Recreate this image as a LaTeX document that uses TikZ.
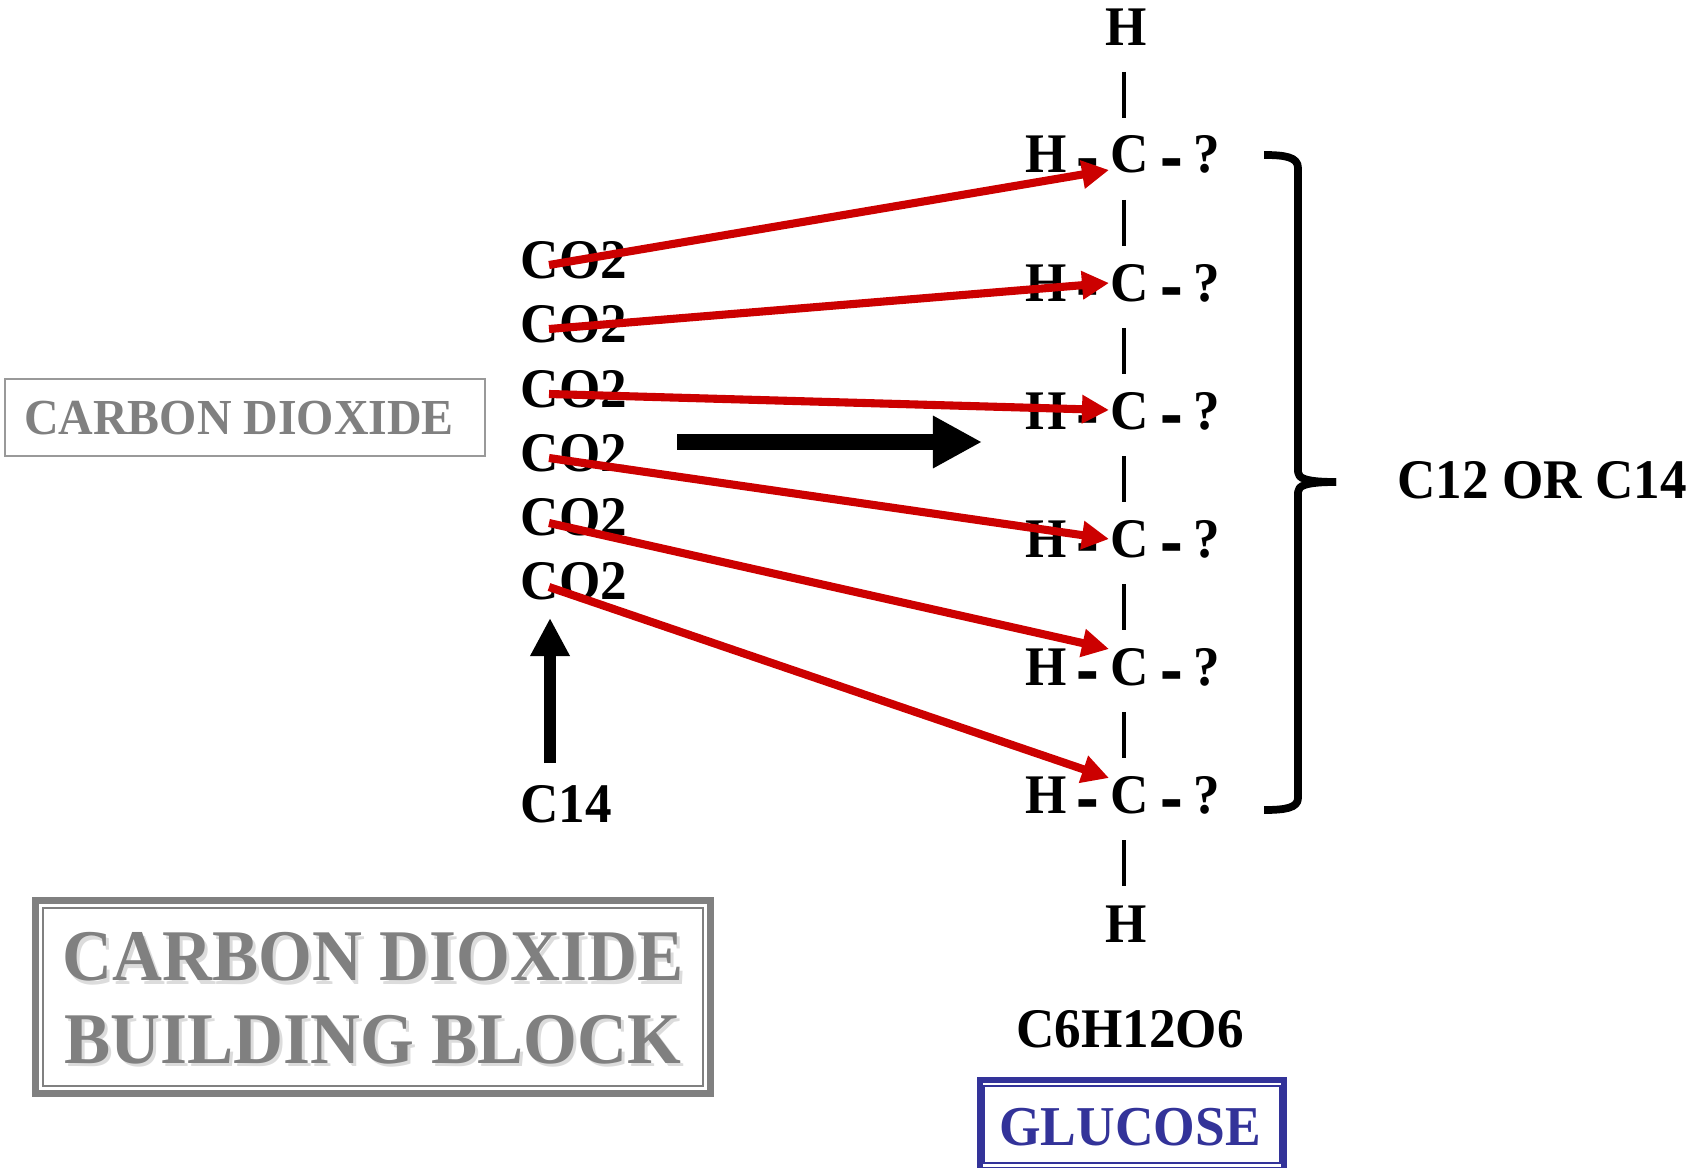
\documentclass[tikz,border=0pt]{standalone}
\usepackage{fontspec}
\setmainfont[FakeStretch=0.95]{Liberation Serif}
\usepackage{xcolor}
\usetikzlibrary{arrows.meta,calc,positioning,fit}
\definecolor{boxgray}{HTML}{808080}
\definecolor{edgegray}{HTML}{999999}
\definecolor{shadowgray}{HTML}{DCDCDC}
\definecolor{arrowred}{HTML}{CC0000}
\definecolor{glucoseblue}{HTML}{333399}
\tikzset{
  atom/.style={anchor=base, inner sep=0pt, font=\bfseries\fontsize{15.9}{18}\selectfont, text=black},
  hyph/.style={anchor=base, inner sep=0pt, xscale=0.8, font=\bfseries\fontsize{25.4}{28}\selectfont, text=black},
  bond/.style={line width=1.15pt, draw=black},
  feed/.style={-{Triangle[length=0.27cm,width=0.27cm]}, line width=2.3pt, draw=arrowred},
  bigarr/.style={-{Triangle[length=0.49cm,width=0.49cm]}, line width=0.16cm, draw=black},
  uparr/.style={-{Triangle[length=0.38cm,width=0.37cm]}, line width=0.12cm, draw=black},
  brace/.style={line width=2.2pt, draw=black, line join=round},
  namebox/.style={draw=edgegray, line width=0.6pt, minimum width=4.8cm, minimum height=0.77cm, inner sep=0pt},
  nametext/.style={anchor=base, inner sep=0pt, font=\bfseries\fontsize{14.34}{16}\selectfont, text=boxgray},
  titleouter/.style={draw=boxgray, line width=2pt, minimum width=6.75cm, minimum height=1.93cm, inner sep=0pt},
  titleinner/.style={draw=boxgray, line width=0.55pt, minimum width=6.6cm, minimum height=1.78cm, inner sep=0pt},
  titletext/.style={anchor=base, inner sep=0pt, font=\bfseries\fontsize{20.7}{24}\selectfont, text=boxgray},
  titleshadow/.style={titletext, text=shadowgray},
  glucoseouter/.style={draw=glucoseblue, line width=1.5pt, minimum width=3.04cm, minimum height=0.9cm, inner sep=0pt},
  glucoseinner/.style={draw=glucoseblue, line width=0.55pt, minimum width=2.96cm, minimum height=0.77cm, inner sep=0pt},
  glucosetext/.style={anchor=base, inner sep=0pt, font=\bfseries\fontsize{16}{18}\selectfont, text=glucoseblue},
}
\begin{document}
\begin{tikzpicture}[x=0.01cm, y=-0.01cm]
\useasboundingbox (0,0) rectangle (1701,1167);

%% left labels
\node[namebox] (co2box) at (245,417.5) {};
\node[nametext] (co2name) at (239,434) {CARBON DIOXIDE};

\node[titleouter] (titlebox) at (373,997) {};
\node[titleinner] (titlein) at (373,997) {};
\node[titleshadow] (titleshadea) at (376,984) {CARBON DIOXIDE};
\node[titleshadow] (titleshadeb) at (376,1066) {BUILDING BLOCK};
\node[titletext] (titlea) at (373,980) {CARBON DIOXIDE};
\node[titletext] (titleb) at (373,1063) {BUILDING BLOCK};

%% CO2 stack
\node[atom] (co1) at (574,279) {CO2};
\node[atom] (co2) at (574,343) {CO2};
\node[atom] (co3) at (574,407) {CO2};
\node[atom] (co4) at (574,471) {CO2};
\node[atom] (co5) at (574,535) {CO2};
\node[atom] (co6) at (574,599) {CO2};
\node[atom] (c14) at (566,822) {C14};

%% glucose chain
\node[atom] (htop) at (1126,46) {H};

\node[atom] (ha) at (1046,173) {H};
\node[hyph] (da) at (1088,184) {-};
\node[atom] (ca) at (1130,173) {C};
\node[hyph] (ea) at (1172,184) {-};
\node[atom] (qa) at (1207,173) {?};

\node[atom] (hb) at (1046,301) {H};
\node[hyph] (db) at (1088,312) {-};
\node[atom] (cb) at (1130,301) {C};
\node[hyph] (eb) at (1172,312) {-};
\node[atom] (qb) at (1207,301) {?};

\node[atom] (hc) at (1046,429) {H};
\node[hyph] (dc) at (1088,440) {-};
\node[atom] (cc) at (1130,429) {C};
\node[hyph] (ec) at (1172,440) {-};
\node[atom] (qc) at (1207,429) {?};

\node[atom] (hd) at (1046,557) {H};
\node[hyph] (dd) at (1088,568) {-};
\node[atom] (cd) at (1130,557) {C};
\node[hyph] (ed) at (1172,568) {-};
\node[atom] (qd) at (1207,557) {?};

\node[atom] (he) at (1046,685) {H};
\node[hyph] (de) at (1088,696) {-};
\node[atom] (ce) at (1130,685) {C};
\node[hyph] (ee) at (1172,696) {-};
\node[atom] (qe) at (1207,685) {?};

\node[atom] (hf) at (1046,813) {H};
\node[hyph] (df) at (1088,824) {-};
\node[atom] (cf) at (1130,813) {C};
\node[hyph] (ef) at (1172,824) {-};
\node[atom] (qf) at (1207,813) {?};

\node[atom] (hbot) at (1126,942) {H};

\node[atom] (formula) at (1130,1047) {C6H12O6};
\node[atom] (cside) at (1542,498) {C12 OR C14};

\node[glucoseouter] (glubox) at (1132,1125) {};
\node[glucoseinner] (gluin) at (1132,1124.5) {};
\node[glucosetext] (glutext) at (1130,1145) {GLUCOSE};

%% bonds
\draw[bond] ([shift={(-2,26)}]htop.base) -- ([shift={(-6,-55)}]ca.base);
\draw[bond] ([shift={(-6,27)}]ca.base) -- ([shift={(-6,-55)}]cb.base);
\draw[bond] ([shift={(-6,27)}]cb.base) -- ([shift={(-6,-55)}]cc.base);
\draw[bond] ([shift={(-6,27)}]cc.base) -- ([shift={(-6,-55)}]cd.base);
\draw[bond] ([shift={(-6,27)}]cd.base) -- ([shift={(-6,-55)}]ce.base);
\draw[bond] ([shift={(-6,27)}]ce.base) -- ([shift={(-6,-55)}]cf.base);
\draw[bond] ([shift={(-6,27)}]cf.base) -- ([shift={(-2,-56)}]hbot.base);

%% red feeds
\draw[feed] ([shift={(-25,-14)}]co1.base) -- ([shift={(-21,-3)}]ca.base);
\draw[feed] ([shift={(-25,-14)}]co2.base) -- ([shift={(-21,-18)}]cb.base);
\draw[feed] ([shift={(-25,-13)}]co3.base) -- ([shift={(-21,-19)}]cc.base);
\draw[feed] ([shift={(-25,-13)}]co4.base) -- ([shift={(-21,-18)}]cd.base);
\draw[feed] ([shift={(-25,-12)}]co5.base) -- ([shift={(-21,-36)}]ce.base);
\draw[feed] ([shift={(-25,-12)}]co6.base) -- ([shift={(-21,-35)}]cf.base);

%% black arrows
\coordinate (flowa) at (677,442);
\coordinate (flowb) at (982,442);
\draw[bigarr] (flowa) -- (flowb);
\draw[uparr] ([shift={(-16,-59)}]c14.base) -- ([shift={(-24,19)}]co6.base);

%% brace
\coordinate (bracetop) at (1264,155);
\coordinate (bracetip) at (1336,482);
\coordinate (bracebot) at (1264,810);
\draw[brace] (bracetop) .. controls (1285,155) and (1298,157) .. (1298,168) -- (1298,472)
  .. controls (1298,478) and (1305,482) .. (bracetip);
\draw[brace] (bracetip) .. controls (1305,482) and (1298,486) .. (1298,492) -- (1298,798)
  .. controls (1298,808) and (1285,810) .. (bracebot);

\end{tikzpicture}
\end{document}
